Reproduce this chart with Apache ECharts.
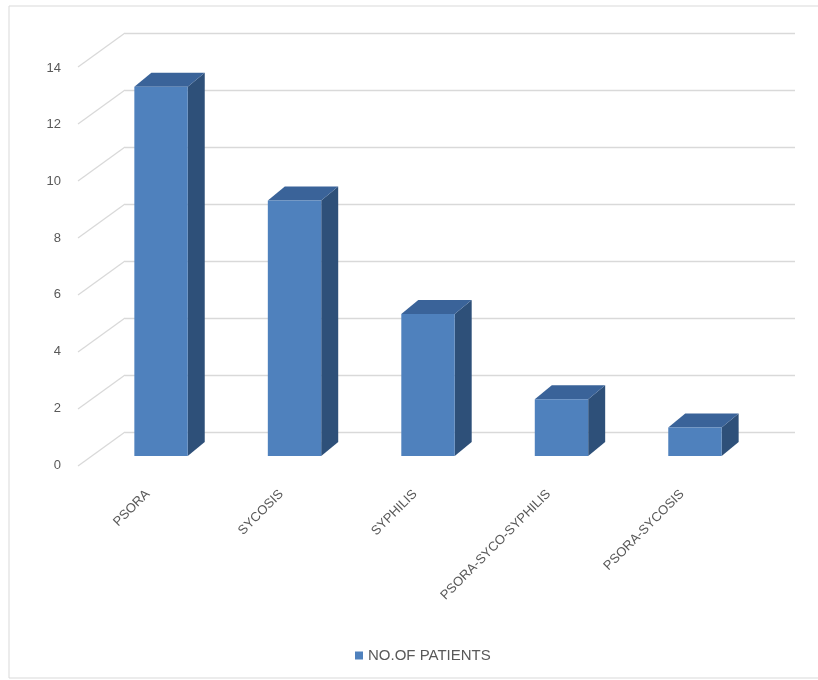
<!DOCTYPE html>
<html><head><meta charset="utf-8">
<script src="https://cdn.jsdelivr.net/npm/echarts@6/dist/echarts.min.js"></script>
<style>html,body{margin:0;padding:0;background:#fff}#c{width:818px;height:680px}</style>
</head><body><div id="c"></div>
<script>
const categories = ['PSORA', 'SYCOSIS', 'SYPHILIS', 'PSORA-SYCO-SYPHILIS', 'PSORA-SYCOSIS'];
const patients = [13, 9, 5, 2, 1];
const yTicks = [0, 2, 4, 6, 8, 10, 12, 14];
const seriesName = 'NO.OF PATIENTS';

const FONT = 'Liberation Sans';
const TXT = '#595959';
const GRID_C = '#d9d9d9';
const FRONT = '#4f81bd', SIDE = '#2e5079', TOP = '#3a6399';
const DX = 17, DY = -14;       // bar depth
const WX = -47, WY = 34;       // side wall depth (back -> front)

const chart = echarts.init(document.getElementById('c'), null, {renderer: 'canvas'});
chart.setOption({
  animation: false,
  backgroundColor: '#fff',
  graphic: [{type: 'rect', shape: {x: 9, y: 6, width: 820, height: 672}, style: {fill: 'none', stroke: GRID_C, lineWidth: 1}, silent: true}],
  legend: {
    data: [{name: seriesName, icon: 'rect'}],
    left: 350, top: 643, itemWidth: 8, itemHeight: 8, itemGap: 10,
    textStyle: {color: TXT, fontSize: 15, fontFamily: FONT}
  },
  grid: [
    {left: 94.3, right: 56.3, top: 58.4, bottom: 224},
    {left: 81, right: 69, top: 68, bottom: 215},
    {left: 125, right: 23, top: 33, bottom: 248}
  ],
  xAxis: [
    {gridIndex: 0, type: 'category', data: categories, show: false},
    {gridIndex: 1, type: 'category', data: categories,
      axisLine: {show: false}, axisTick: {show: false},
      axisLabel: {rotate: 45, margin: 27, color: TXT, fontSize: 13, fontFamily: FONT, interval: 0}},
    {gridIndex: 2, type: 'value', min: 0, max: 1, show: false}
  ],
  yAxis: [
    {gridIndex: 0, type: 'value', min: 0, max: 14, interval: 2, show: false},
    {gridIndex: 1, type: 'value', min: 0, max: 14, interval: 2,
      axisLine: {show: false}, axisTick: {show: false}, splitLine: {show: false},
      axisLabel: {margin: 20, color: TXT, fontSize: 13, fontFamily: FONT}},
    {gridIndex: 2, type: 'value', min: 0, max: 14, interval: 2,
      axisLine: {show: false}, axisTick: {show: false}, axisLabel: {show: false},
      splitLine: {lineStyle: {color: GRID_C, width: 1.3}}}
  ],
  series: [
    {
      type: 'custom', name: 'wall', xAxisIndex: 2, yAxisIndex: 2, silent: true,
      data: yTicks.map(v => [0, v]),
      renderItem: function (params, api) {
        const p = api.coord([0, api.value(1)]);
        return {type: 'line', shape: {x1: p[0], y1: p[1], x2: p[0] + WX, y2: p[1] + WY},
          style: {stroke: GRID_C, lineWidth: 1.3}};
      }
    },
    {
      type: 'custom', name: seriesName, xAxisIndex: 0, yAxisIndex: 0,
      itemStyle: {color: FRONT},
      data: patients.map((v, i) => [i, v]),
      renderItem: function (params, api) {
        const top = api.coord([api.value(0), api.value(1)]);
        const bot = api.coord([api.value(0), 0]);
        const w = api.size([1, 0])[0] * 0.4;
        const x0 = top[0] - w / 2, x1 = top[0] + w / 2;
        const yt = top[1], yb = bot[1];
        return {type: 'group', children: [
          {type: 'polygon', shape: {points: [[x1, yt], [x1 + DX, yt + DY], [x1 + DX, yb + DY], [x1, yb]]}, style: {fill: SIDE}},
          {type: 'polygon', shape: {points: [[x0, yt], [x0 + DX, yt + DY], [x1 + DX, yt + DY], [x1, yt]]}, style: {fill: TOP}},
          {type: 'rect', shape: {x: x0, y: yt, width: w, height: yb - yt}, style: {fill: FRONT}}
        ]};
      }
    }
  ]
});
</script></body></html>
